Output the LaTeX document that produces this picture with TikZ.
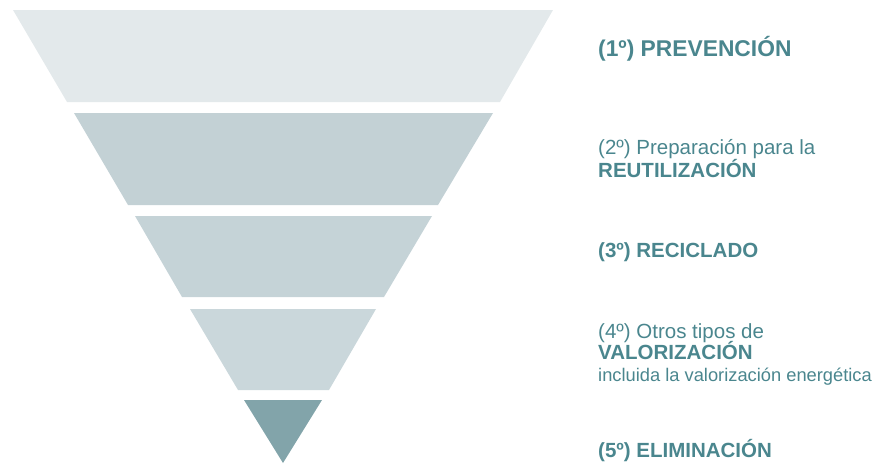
\documentclass[tikz,border=0pt]{standalone}
\usepackage{fontspec}
\setmainfont{Liberation Sans}
\definecolor{bandA}{HTML}{E3E9EB}
\definecolor{bandB}{HTML}{C3D1D5}
\definecolor{bandC}{HTML}{C5D3D7}
\definecolor{bandD}{HTML}{CAD7DB}
\definecolor{bandE}{HTML}{82A4AA}
\definecolor{txt}{HTML}{4A868E}
\begin{document}
\begin{tikzpicture}[x=1pt,y=-1pt,
  lbl/.style={anchor=base west,inner sep=0pt,text=txt},
  huge/.style={lbl,font=\fontsize{22.8}{26}\selectfont\bfseries},
  big/.style={lbl,font=\fontsize{20.5}{24}\selectfont\bfseries},
  reg/.style={lbl,font=\fontsize{20.5}{24}\selectfont},
  sml/.style={lbl,font=\fontsize{18.3}{21}\selectfont}]
\useasboundingbox (0,0) rectangle (888,463);
\fill[bandA] (13,10) -- (553,10) -- (500,102) -- (67,102) -- cycle;
\fill[bandB] (74,113) -- (493,113) -- (438,205) -- (128,205) -- cycle;
\fill[bandC] (135,216) -- (432,216) -- (384,297) -- (182,297) -- cycle;
\fill[bandD] (190,309) -- (376,309) -- (329,390) -- (238,390) -- cycle;
\fill[bandE] (244,400) -- (322,400) -- (283,463) -- cycle;
\node[huge] (t1) at (598,56) {(1º) PREVENCIÓN};
\node[reg] (t2a) at (598,154) {(2º) Preparación para la};
\node[big] (t2b) at (598,177) {REUTILIZACIÓN};
\node[big] (t3) at (598,257) {(3º) RECICLADO};
\node[reg] (t4a) at (598,338) {(4º) Otros tipos de};
\node[big] (t4b) at (598,359) {VALORIZACIÓN};
\node[sml] (t4c) at (598,381) {incluida la valorización energética};
\node[big] (t5) at (598,457) {(5º) ELIMINACIÓN};
\end{tikzpicture}
\end{document}
